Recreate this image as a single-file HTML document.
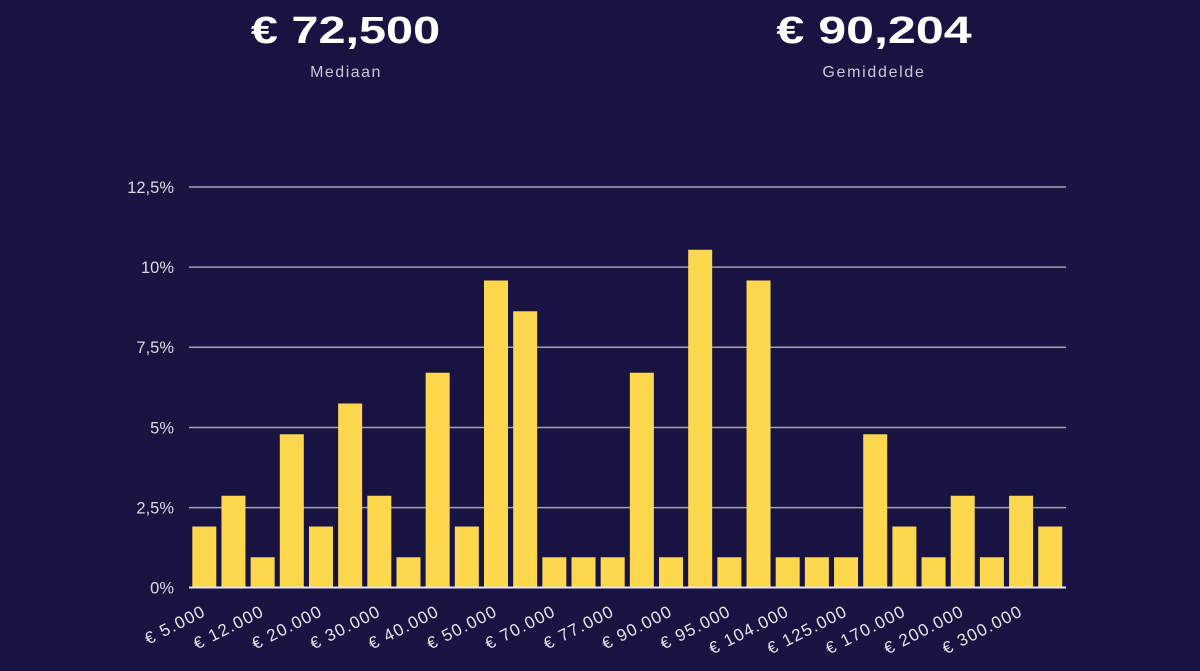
<!DOCTYPE html>
<html>
<head>
<meta charset="utf-8">
<style>
html,body{margin:0;padding:0;background:#181341;}
body{width:1200px;height:671px;overflow:hidden;}
svg{display:block;}
text{font-family:"Liberation Sans",sans-serif;}
</style>
</head>
<body>
<svg width="1200" height="671" viewBox="0 0 1200 671" xmlns="http://www.w3.org/2000/svg">
<rect x="0" y="0" width="1200" height="671" fill="#181341"/>

<!-- header -->
<g transform="translate(345.5,43) scale(1.28,1)"><text x="0" y="0" text-anchor="middle" font-size="38" font-weight="bold" fill="#ffffff">€ 72,500</text></g>
<text x="346" y="77" text-anchor="middle" font-size="16" letter-spacing="1.5" fill="#c9c8da">Mediaan</text>
<g transform="translate(874,43) scale(1.32,1)"><text x="0" y="0" text-anchor="middle" font-size="38" font-weight="bold" fill="#ffffff">€ 90,204</text></g>
<text x="874" y="77" text-anchor="middle" font-size="16" letter-spacing="1.7" fill="#c9c8da">Gemiddelde</text>

<!-- gridlines -->
<g stroke="#a3a1b3" stroke-width="1.5">
<line x1="189" y1="187" x2="1066" y2="187"/>
<line x1="189" y1="267.1" x2="1066" y2="267.1"/>
<line x1="189" y1="347.2" x2="1066" y2="347.2"/>
<line x1="189" y1="427.5" x2="1066" y2="427.5"/>
<line x1="189" y1="507.6" x2="1066" y2="507.6"/>
</g>

<!-- y labels -->
<g font-size="16.5" fill="#dcdbe6" text-anchor="end">
<text x="174" y="193">12,5%</text>
<text x="174" y="273">10%</text>
<text x="174" y="353">7,5%</text>
<text x="174" y="433.5">5%</text>
<text x="174" y="513.5">2,5%</text>
<text x="174" y="593.5">0%</text>
</g>

<!-- bars -->
<g fill="#fdd84e">
<rect x="192.3" y="526.5" width="24" height="61.5"/>
<rect x="221.47" y="495.75" width="24" height="92.25"/>
<rect x="250.64" y="557.25" width="24" height="30.75"/>
<rect x="279.81" y="434.25" width="24" height="153.75"/>
<rect x="308.98" y="526.5" width="24" height="61.5"/>
<rect x="338.15" y="403.5" width="24" height="184.5"/>
<rect x="367.32" y="495.75" width="24" height="92.25"/>
<rect x="396.49" y="557.25" width="24" height="30.75"/>
<rect x="425.66" y="372.75" width="24" height="215.25"/>
<rect x="454.83" y="526.5" width="24" height="61.5"/>
<rect x="484.0" y="280.5" width="24" height="307.5"/>
<rect x="513.17" y="311.25" width="24" height="276.75"/>
<rect x="542.34" y="557.25" width="24" height="30.75"/>
<rect x="571.51" y="557.25" width="24" height="30.75"/>
<rect x="600.68" y="557.25" width="24" height="30.75"/>
<rect x="629.85" y="372.75" width="24" height="215.25"/>
<rect x="659.02" y="557.25" width="24" height="30.75"/>
<rect x="688.19" y="249.75" width="24" height="338.25"/>
<rect x="717.36" y="557.25" width="24" height="30.75"/>
<rect x="746.53" y="280.5" width="24" height="307.5"/>
<rect x="775.7" y="557.25" width="24" height="30.75"/>
<rect x="804.87" y="557.25" width="24" height="30.75"/>
<rect x="834.04" y="557.25" width="24" height="30.75"/>
<rect x="863.21" y="434.25" width="24" height="153.75"/>
<rect x="892.38" y="526.5" width="24" height="61.5"/>
<rect x="921.55" y="557.25" width="24" height="30.75"/>
<rect x="950.72" y="495.75" width="24" height="92.25"/>
<rect x="979.89" y="557.25" width="24" height="30.75"/>
<rect x="1009.06" y="495.75" width="24" height="92.25"/>
<rect x="1038.23" y="526.5" width="24" height="61.5"/>
</g>

<!-- baseline -->
<line x1="189" y1="587.5" x2="1066" y2="587.5" stroke="#e6e5ee" stroke-width="2"/>

<!-- x labels -->
<g font-size="17" fill="#e4e3ec" text-anchor="end" letter-spacing="1.3">
<text transform="translate(207,615) rotate(-27)">€ 5.000</text>
<text transform="translate(265.3,615) rotate(-27)">€ 12.000</text>
<text transform="translate(323.7,615) rotate(-27)">€ 20.000</text>
<text transform="translate(382,615) rotate(-27)">€ 30.000</text>
<text transform="translate(440.4,615) rotate(-27)">€ 40.000</text>
<text transform="translate(498.7,615) rotate(-27)">€ 50.000</text>
<text transform="translate(557,615) rotate(-27)">€ 70.000</text>
<text transform="translate(615.4,615) rotate(-27)">€ 77.000</text>
<text transform="translate(673.7,615) rotate(-27)">€ 90.000</text>
<text transform="translate(732.1,615) rotate(-27)">€ 95.000</text>
<text transform="translate(790.4,615) rotate(-27)">€ 104.000</text>
<text transform="translate(848.7,615) rotate(-27)">€ 125.000</text>
<text transform="translate(907.1,615) rotate(-27)">€ 170.000</text>
<text transform="translate(965.4,615) rotate(-27)">€ 200.000</text>
<text transform="translate(1023.8,615) rotate(-27)">€ 300.000</text>
</g>
</svg>
</body>
</html>
